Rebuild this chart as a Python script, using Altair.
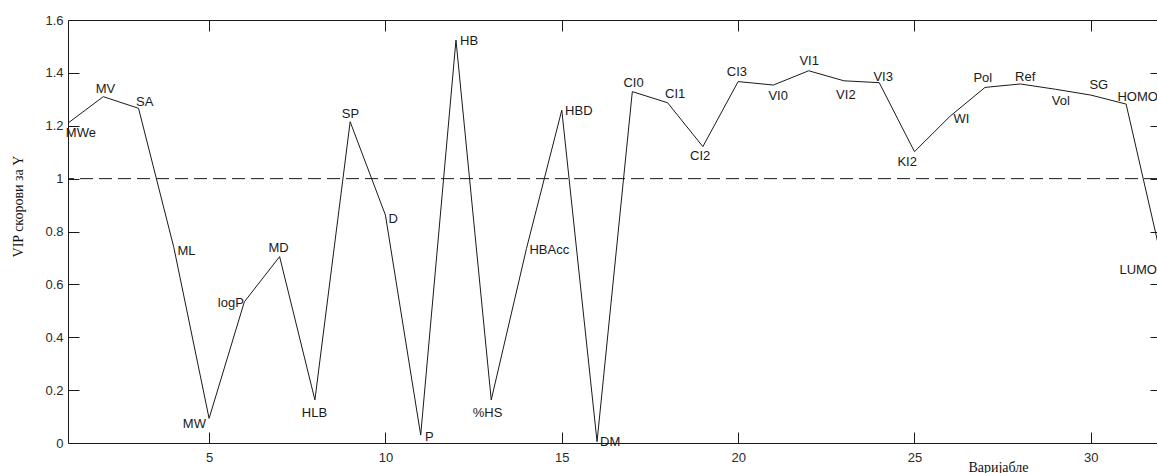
import altair as alt
import pandas as pd

# ---- data ----
names = ["MWe", "MV", "SA", "ML", "MW", "logP", "MD", "HLB", "SP", "D", "P", "HB",
         "%HS", "HBAcc", "HBD", "DM", "CI0", "CI1", "CI2", "CI3", "VI0", "VI1", "VI2",
         "VI3", "KI2", "WI", "Pol", "Ref", "Vol", "SG", "HOMO", "LUMO"]
var_index = list(range(1, 33))
vip = [1.21, 1.31, 1.266, 0.74, 0.093, 0.534, 0.705, 0.163, 1.215, 0.862, 0.03, 1.524,
       0.163, 0.736, 1.259, 0.005, 1.329, 1.287, 1.121, 1.367, 1.354, 1.408, 1.370,
       1.363, 1.102, 1.235, 1.345, 1.358, 1.338, 1.316, 1.282, 0.70]
# text anchors of the point labels, in data units (as placed in the original figure)
label_x = [0.938, 1.788, 2.931, 4.102, 4.255, 5.247, 6.682, 7.629, 8.763, 10.084, 11.125, 12.117,
           12.477, 14.082, 15.094, 16.087, 16.747, 17.930, 18.638, 19.679, 20.858, 21.737, 22.778,
           23.835, 24.516, 26.103, 26.670, 27.853, 28.893, 29.960, 30.753, 30.810]
label_y = [1.171, 1.339, 1.288, 0.726, 0.072, 0.530, 0.739, 0.115, 1.244, 0.847, 0.021, 1.521,
           0.115, 0.730, 1.256, 0.002, 1.360, 1.321, 1.086, 1.405, 1.313, 1.446, 1.316,
           1.385, 1.061, 1.227, 1.382, 1.386, 1.294, 1.355, 1.307, 0.654]
threshold = [1.0]
x_ticks = [5, 10, 15, 20, 25, 30]
y_ticks = [0, 0.2, 0.4, 0.6, 0.8, 1, 1.2, 1.4, 1.6]

x_title = "Варијабле"
y_title = "VIP скорови за Y"

# ---- layout ----
X_DOMAIN = [1, 31.876]
Y_DOMAIN = [0, 1.6]
W, H = 1089, 423
TICK = 11
INK = "#1a1a1a"
LBL = "#2a2a2a"
SANS = "Liberation Sans"
SERIF = "Liberation Serif"

df = pd.DataFrame({"idx": var_index, "vip": vip, "name": names,
                   "lx": label_x, "ly": label_y})
thr = pd.DataFrame({"t": threshold})

xs = alt.Scale(domain=X_DOMAIN, nice=False, zero=False)
ys = alt.Scale(domain=Y_DOMAIN, nice=False, zero=False)

# axes pulled inside the frame so that their ticks point inward (MATLAB style);
# the frame itself is the view stroke
ax_bottom = alt.Axis(orient="bottom", values=x_ticks, offset=-TICK, domain=False,
                     ticks=True, tickSize=TICK, tickColor=INK, tickWidth=1,
                     labels=True, labelFont=SANS, labelFontSize=13,
                     labelColor=LBL, labelPadding=8, grid=False,
                     title=x_title, titleFont=SERIF, titleFontSize=14,
                     titleFontWeight="normal", titleColor="#111",
                     titleX=930, titleY=28 + TICK, titleAlign="center",
                     titleBaseline="alphabetic")
ax_left = alt.Axis(orient="left", values=y_ticks, offset=-TICK, domain=False,
                   ticks=True, tickSize=TICK, tickColor=INK, tickWidth=1,
                   labels=True, labelFont=SANS, labelFontSize=13,
                   labelColor=LBL, labelPadding=5, grid=False,
                   labelExpr="datum.value == 0 ? '0' : (datum.value == 1 ? '1' : format(datum.value, '.1f'))",
                   title=y_title, titleFont=SERIF, titleFontSize=14,
                   titleFontWeight="normal", titleColor="#111",
                   titleAngle=270, titleX=-50 - TICK, titleY=186, titleAlign="center",
                   titleBaseline="middle")

rule = alt.Chart(thr).mark_rule(color=INK, strokeWidth=1, strokeDash=[13, 6]).encode(
    y=alt.Y("t:Q", scale=ys, axis=ax_left),
)
line = alt.Chart(df).mark_line(color=INK, strokeWidth=1, clip=True).encode(
    x=alt.X("idx:Q", scale=xs, axis=ax_bottom),
    y=alt.Y("vip:Q", scale=ys, axis=ax_left),
)
text = alt.Chart(df).mark_text(align="left", baseline="middle", font=SANS, fontSize=13,
                               color=INK).encode(
    x=alt.X("lx:Q", scale=xs, axis=ax_bottom),
    y=alt.Y("ly:Q", scale=ys, axis=ax_left),
    text="name:N",
)
main = alt.layer(rule, line, text)

# second set of axes for the inward ticks on the top and right edges
ticks_tr = alt.Chart(df).mark_point(opacity=0).encode(
    x=alt.X("idx:Q", scale=alt.Scale(domain=X_DOMAIN, nice=False, zero=False),
            axis=alt.Axis(orient="top", values=x_ticks, offset=-TICK, domain=False,
                          ticks=True, tickSize=TICK, tickColor=INK, tickWidth=1,
                          labels=False, grid=False, title=None)),
    y=alt.Y("vip:Q", scale=alt.Scale(domain=Y_DOMAIN, nice=False, zero=False),
            axis=alt.Axis(orient="right", values=y_ticks, offset=-7, domain=False,
                          ticks=True, tickSize=7, tickColor=INK, tickWidth=1,
                          labels=False, grid=False, title=None)),
)

chart = alt.layer(main, ticks_tr).resolve_scale(
    x="independent", y="independent"
).properties(
    width=W, height=H,
    autosize=alt.AutoSizeParams(type="none"),
    padding={"left": 68, "top": 20, "right": 0, "bottom": 30},
    background="white",
).configure_view(stroke=INK, strokeWidth=1)

chart.save("out.html", embed_options={"renderer": "svg", "actions": False})
